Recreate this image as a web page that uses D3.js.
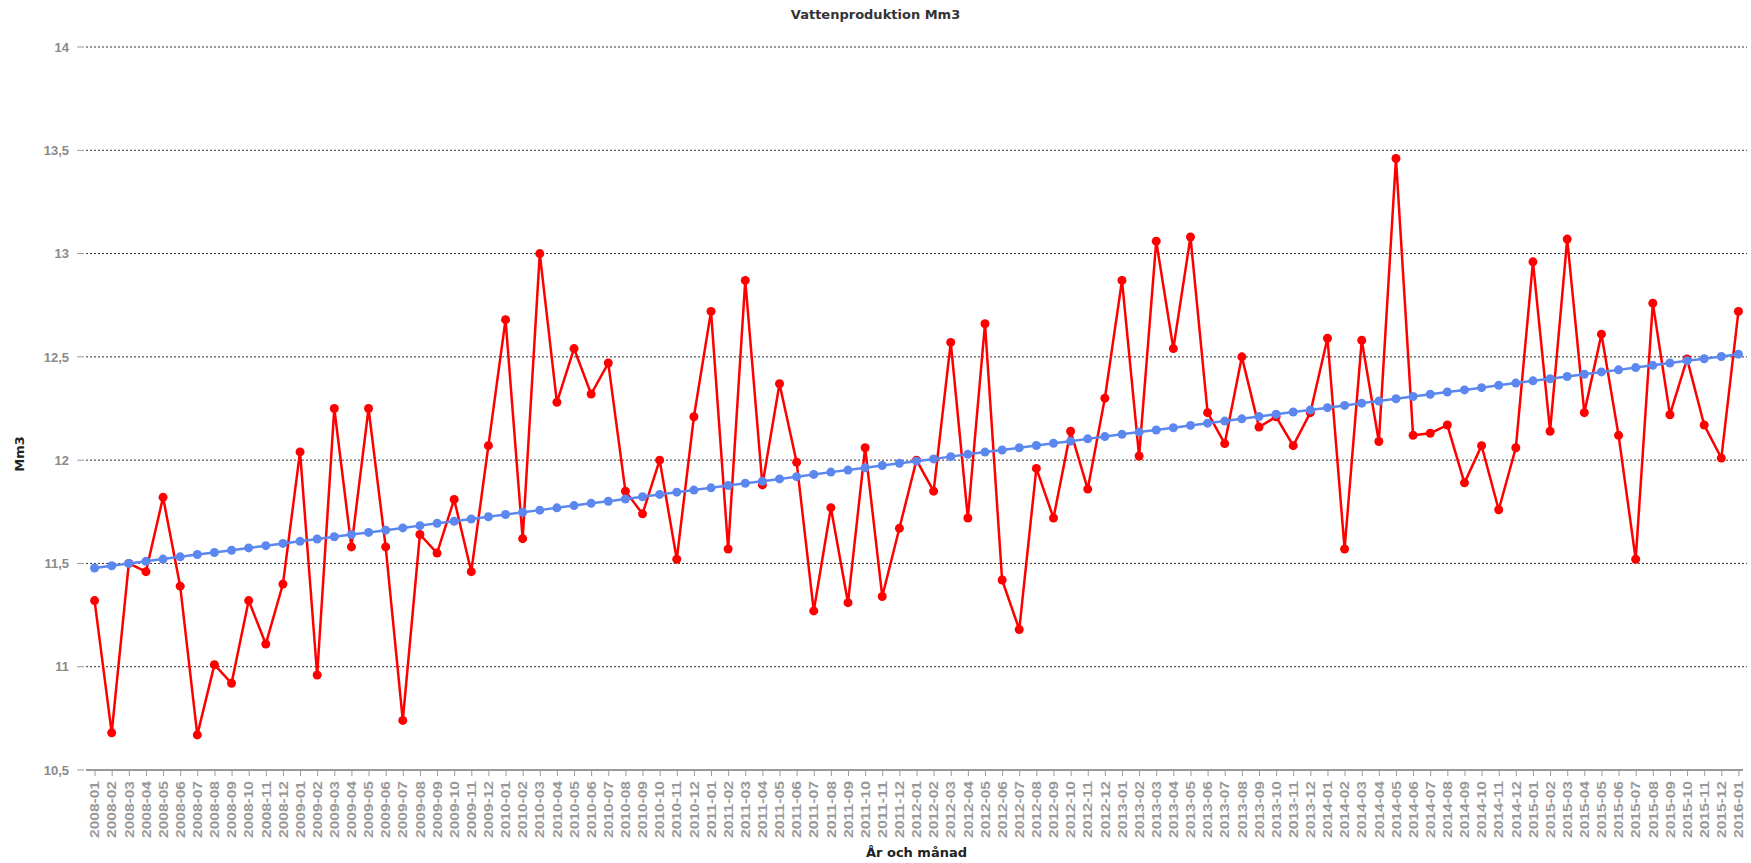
<!DOCTYPE html>
<head>
    <meta charset="utf-8">
    <script src="https://d3js.org/d3.v7.min.js"></script>
    <style>
        body {
            margin: 0;
            background: #ffffff;
            font-family: "DejaVu Sans", sans-serif;
        }

        text.title {
            font-size: 13px;
            font-weight: 700;
            fill: #333333;
        }

        text.axisTitle {
            font-size: 13px;
            font-weight: 700;
            fill: #222222;
        }

        .yAxis .tick text {
            font-size: 13px;
            font-weight: 700;
            fill: #8a8a8a;
        }

        .xAxis .tick text {
            font-size: 12px;
            font-weight: 700;
            fill: #999999;
        }

        .xAxis .tick line {
            stroke: #9a9a9a;
        }

        path.domain {
            display: none;
        }

        line.grid {
            stroke: #333333;
            stroke-dasharray: 2, 2;
        }
    </style>
</head>

<body>
    <div id="chart"></div>
    <script>
        // months 2008-01 .. 2016-01
        const months = [
            '2008-01', '2008-02', '2008-03', '2008-04', '2008-05', '2008-06', '2008-07', '2008-08', '2008-09', '2008-10', '2008-11', '2008-12',
            '2009-01', '2009-02', '2009-03', '2009-04', '2009-05', '2009-06', '2009-07', '2009-08', '2009-09', '2009-10', '2009-11', '2009-12',
            '2010-01', '2010-02', '2010-03', '2010-04', '2010-05', '2010-06', '2010-07', '2010-08', '2010-09', '2010-10', '2010-11', '2010-12',
            '2011-01', '2011-02', '2011-03', '2011-04', '2011-05', '2011-06', '2011-07', '2011-08', '2011-09', '2011-10', '2011-11', '2011-12',
            '2012-01', '2012-02', '2012-03', '2012-04', '2012-05', '2012-06', '2012-07', '2012-08', '2012-09', '2012-10', '2012-11', '2012-12',
            '2013-01', '2013-02', '2013-03', '2013-04', '2013-05', '2013-06', '2013-07', '2013-08', '2013-09', '2013-10', '2013-11', '2013-12',
            '2014-01', '2014-02', '2014-03', '2014-04', '2014-05', '2014-06', '2014-07', '2014-08', '2014-09', '2014-10', '2014-11', '2014-12',
            '2015-01', '2015-02', '2015-03', '2015-04', '2015-05', '2015-06', '2015-07', '2015-08', '2015-09', '2015-10', '2015-11', '2015-12',
            '2016-01'
        ];

        const production = [
            11.32, 10.68, 11.50, 11.46, 11.82, 11.39, 10.67, 11.01, 10.92, 11.32, 11.11, 11.40,
            12.04, 10.96, 12.25, 11.58, 12.25, 11.58, 10.74, 11.64, 11.55, 11.81, 11.46, 12.07,
            12.68, 11.62, 13.00, 12.28, 12.54, 12.32, 12.47, 11.85, 11.74, 12.00, 11.52, 12.21,
            12.72, 11.57, 12.87, 11.88, 12.37, 11.99, 11.27, 11.77, 11.31, 12.06, 11.34, 11.67,
            12.00, 11.85, 12.57, 11.72, 12.66, 11.42, 11.18, 11.96, 11.72, 12.14, 11.86, 12.30,
            12.87, 12.02, 13.06, 12.54, 13.08, 12.23, 12.08, 12.50, 12.16, 12.21, 12.07, 12.23,
            12.59, 11.57, 12.58, 12.09, 13.46, 12.12, 12.13, 12.17, 11.89, 12.07, 11.76, 12.06,
            12.96, 12.14, 13.07, 12.23, 12.61, 12.12, 11.52, 12.76, 12.22, 12.49, 12.17, 12.01,
            12.72
        ];

        const trend = [
            11.478, 11.489, 11.500, 11.510, 11.521, 11.532, 11.543, 11.553, 11.564, 11.575, 11.586, 11.597,
            11.607, 11.618, 11.629, 11.640, 11.650, 11.661, 11.672, 11.683, 11.694, 11.704, 11.715, 11.726,
            11.737, 11.748, 11.758, 11.769, 11.780, 11.791, 11.801, 11.812, 11.823, 11.834, 11.845, 11.855,
            11.866, 11.877, 11.888, 11.898, 11.909, 11.920, 11.931, 11.942, 11.952, 11.963, 11.974, 11.985,
            11.995, 12.006, 12.017, 12.028, 12.039, 12.049, 12.060, 12.071, 12.082, 12.092, 12.103, 12.114,
            12.125, 12.136, 12.146, 12.157, 12.168, 12.179, 12.189, 12.200, 12.211, 12.222, 12.233, 12.243,
            12.254, 12.265, 12.276, 12.286, 12.297, 12.308, 12.319, 12.330, 12.340, 12.351, 12.362, 12.373,
            12.384, 12.394, 12.405, 12.416, 12.427, 12.437, 12.448, 12.459, 12.470, 12.481, 12.491, 12.502,
            12.513
        ];

        const yTicks = [10.5, 11, 11.5, 12, 12.5, 13, 13.5, 14];

        const width = 1751;
        const height = 863;
        const margin = { top: 47, right: 4, bottom: 93, left: 86 };

        const svg = d3.select('#chart').append('svg')
            .attr('width', width)
            .attr('height', height);

        const x = d3.scalePoint()
            .domain(months)
            .range([margin.left, width - margin.right])
            .padding(0.5);

        const y = d3.scaleLinear()
            .domain([10.5, 14])
            .range([height - margin.bottom, margin.top]);

        const fmt = d => String(d).replace('.', ',');

        // gridlines (dotted), the 10,5 one is the axis line
        svg.selectAll('line.grid')
            .data(yTicks.filter(d => d != 10.5))
            .enter()
            .append('line')
            .attr('class', 'grid')
            .attr('x1', margin.left)
            .attr('x2', width - margin.right)
            .attr('y1', d => y(d))
            .attr('y2', d => y(d));

        // small stubs left of the plot
        svg.selectAll('line.stub')
            .data(yTicks)
            .enter()
            .append('line')
            .attr('class', 'stub')
            .attr('x1', 77)
            .attr('x2', 84)
            .attr('y1', d => y(d))
            .attr('y2', d => y(d))
            .style('stroke', '#999999');

        svg.append('line')
            .attr('x1', margin.left)
            .attr('x2', width - margin.right - 4)
            .attr('y1', y(10.5))
            .attr('y2', y(10.5))
            .style('stroke', '#999999')
            .style('stroke-width', 2);

        svg.append('g')
            .attr('class', 'axis yAxis')
            .attr('transform', `translate(70, 0)`)
            .call(d3.axisLeft(y).tickValues(yTicks).tickSize(0).tickPadding(1).tickFormat(fmt));

        const xAxis = svg.append('g')
            .attr('class', 'axis xAxis')
            .attr('transform', `translate(0, ${y(10.5)})`)
            .call(d3.axisBottom(x).tickSize(6));

        // labels are tall and narrow in the original
        xAxis.selectAll('.tick text')
            .attr('transform', 'rotate(-90)')
            .attr('x', -11)
            .attr('y', 0)
            .attr('dy', '0.35em')
            .attr('textLength', 57)
            .attr('lengthAdjust', 'spacingAndGlyphs')
            .style('text-anchor', 'end');

        // production series
        const line = d3.line()
            .x((d, i) => x(months[i]))
            .y(d => y(d));

        svg.append('path')
            .datum(production)
            .attr('d', line)
            .style('fill', 'none')
            .style('stroke', '#ff0000')
            .style('stroke-width', 2.5);

        svg.selectAll('circle.prod')
            .data(production)
            .enter()
            .append('circle')
            .attr('class', 'prod')
            .attr('cx', (d, i) => x(months[i]))
            .attr('cy', d => y(d))
            .attr('r', 4.5)
            .style('fill', '#ff0000');

        // trend line
        svg.append('path')
            .datum(trend)
            .attr('d', line)
            .style('fill', 'none')
            .style('stroke', '#5b87ef')
            .style('stroke-width', 2.5);

        svg.selectAll('circle.trend')
            .data(trend)
            .enter()
            .append('circle')
            .attr('class', 'trend')
            .attr('cx', (d, i) => x(months[i]))
            .attr('cy', d => y(d))
            .attr('r', 4.5)
            .style('fill', '#5b87ef');

        // titles
        svg.append('text')
            .attr('class', 'title')
            .attr('x', width / 2)
            .attr('y', 19)
            .style('text-anchor', 'middle')
            .text('Vattenproduktion Mm3');

        svg.append('text')
            .attr('class', 'axisTitle')
            .attr('transform', 'translate(24, 454) rotate(-90)')
            .style('text-anchor', 'middle')
            .text('Mm3');

        svg.append('text')
            .attr('class', 'axisTitle')
            .attr('x', (margin.left + width - margin.right) / 2)
            .attr('y', 857)
            .style('text-anchor', 'middle')
            .text('År och månad');
    </script>
</body>
